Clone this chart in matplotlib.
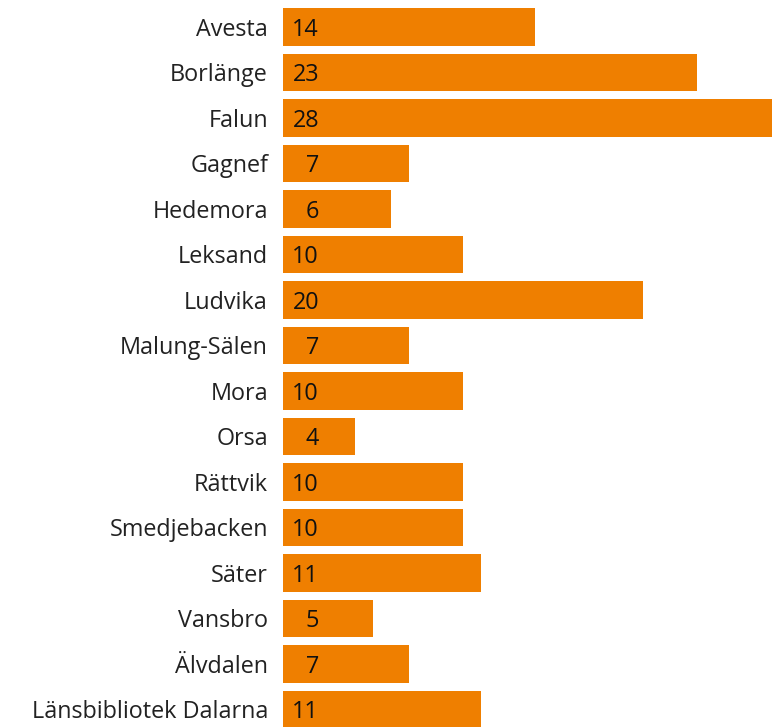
import matplotlib.pyplot as plt

plt.rcParams['font.family'] = ['Open Sans', 'DejaVu Sans']

# data
kommuner = ['Avesta', 'Borlänge', 'Falun', 'Gagnef', 'Hedemora', 'Leksand', 'Ludvika',
            'Malung-Sälen', 'Mora', 'Orsa', 'Rättvik', 'Smedjebacken', 'Säter',
            'Vansbro', 'Älvdalen', 'Länsbibliotek Dalarna']
antal = [14, 23, 28, 7, 6, 10, 20, 7, 10, 4, 10, 10, 11, 5, 7, 11]

fig = plt.figure(figsize=(7.72, 7.27), dpi=100)
ax = fig.add_axes([283 / 772, 0, 1 - 283 / 772, 1])

y = range(len(kommuner))
bars = ax.barh(y, antal, height=0.82, color='#EF7F00')

ax.set_xlim(0, 489 / 18.0)
ax.set_ylim(15.385, -0.593)

ax.set_yticks(list(y))
ax.set_yticklabels(kommuner, fontsize=16.8, color='#222222', va='center_baseline')
ax.tick_params(axis='y', length=0, pad=10.8)
ax.set_xticks([])
for s in ax.spines.values():
    s.set_visible(False)

for bar, v in zip(bars, antal):
    ax.annotate(str(v), xy=(0, bar.get_y() + bar.get_height() / 2),
                xytext=(36 * 0.72, 0), textcoords='offset points',
                ha='right', va='center_baseline', fontsize=16.8, color='#111111')

plt.savefig('out.png', dpi=100)
